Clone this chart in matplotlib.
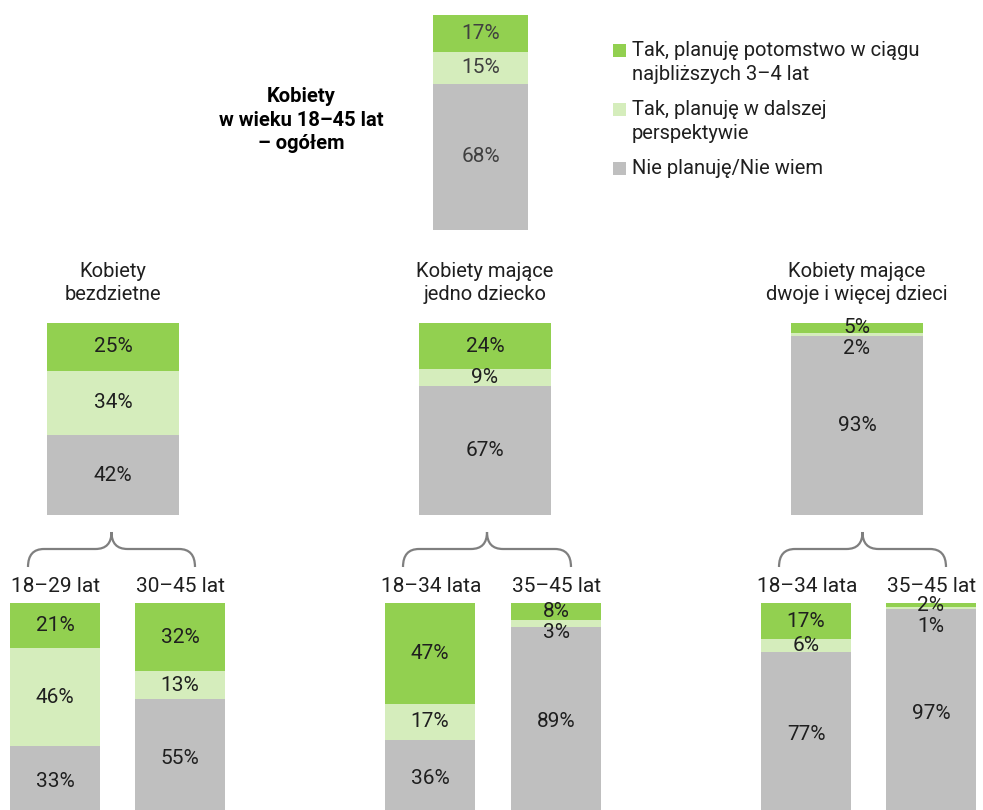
import matplotlib.pyplot as plt
from matplotlib.path import Path
from matplotlib.patches import PathPatch, Rectangle

plt.rcParams['font.family'] = ['Roboto', 'DejaVu Sans']

W, H = 983, 810

# kolejność segmentów: zielony (3-4 lata), jasny (dalsza perspektywa), szary (nie planuję)
legend_labels = ['Tak, planuję potomstwo w ciągu\nnajbliższych 3–4 lat',
                 'Tak, planuję w dalszej\nperspektywie',
                 'Nie planuję/Nie wiem']
colors = ['#92D050', '#D5EDBC', '#BFBFBF']

total_title = 'Kobiety\nw wieku 18–45 lat\n– ogółem'
total_vals = [17, 15, 68]

group_titles = ['Kobiety\nbezdzietne', 'Kobiety mające\njedno dziecko',
                'Kobiety mające\ndwoje i więcej dzieci']
group_vals = [[25, 34, 42], [24, 9, 67], [5, 2, 93]]

sub_labels = [['18–29 lat', '30–45 lat'], ['18–34 lata', '35–45 lat'],
              ['18–34 lata', '35–45 lat']]
sub_vals = [[[21, 46, 33], [32, 13, 55]],
            [[47, 17, 36], [8, 3, 89]],
            [[17, 6, 77], [2, 1, 97]]]

fig = plt.figure(figsize=(W / 100, H / 100), dpi=100)


def ax_at(x, y, w, h):
    return fig.add_axes([x / W, 1 - (y + h) / H, w / W, h / H])


def stacked_bar(x, y, w, h, vals, txt_color='#1f1f1f', fs=15):
    ax = ax_at(x, y, w, h)
    total = sum(vals)
    bottom = total
    centers = []
    for v, c in zip(vals, colors):
        bottom -= v
        ax.bar(0, v, bottom=bottom, width=1, color=c, linewidth=0)
        centers.append(bottom + v / 2)
    for i, (v, yc) in enumerate(zip(vals, centers)):
        if i == 1 and v < 5:
            # mały segment - etykieta pod etykietą zielonego
            ax.annotate(f'{v}%', xy=(0, centers[0]), xytext=(0, -21),
                        textcoords='offset pixels', ha='center', va='center',
                        fontsize=fs, color=txt_color)
        else:
            ax.text(0, yc, f'{v}%', ha='center', va='center',
                    fontsize=fs, color=txt_color)
    ax.set_xlim(-0.5, 0.5)
    ax.set_ylim(0, total)
    ax.axis('off')
    return ax


def brace(x0, x1, ytop, ymid, ybot):
    xm = (x0 + x1) / 2
    r = 16
    pts = [(x0, ybot), (x0, ymid), (x0 + r, ymid),
           (xm - r, ymid), (xm, ymid), (xm, ytop),
           (xm, ytop), (xm, ymid), (xm + r, ymid),
           (x1 - r, ymid), (x1, ymid), (x1, ybot)]
    codes = [Path.MOVETO, Path.CURVE3, Path.CURVE3,
             Path.LINETO, Path.CURVE3, Path.CURVE3,
             Path.MOVETO, Path.CURVE3, Path.CURVE3,
             Path.LINETO, Path.CURVE3, Path.CURVE3]
    verts = [(vx / W, 1 - vy / H) for vx, vy in pts]
    p = PathPatch(Path(verts, codes), transform=fig.transFigure,
                  fill=False, edgecolor='#7f7f7f', linewidth=1.6)
    fig.patches.append(p)


# górny słupek - ogółem
stacked_bar(433, 15, 95, 215, total_vals, txt_color='#404040')
fig.text(301 / W, 1 - 120 / H, total_title, ha='center', va='center',
         fontsize=14.5, fontweight='bold', linespacing=1.3)

# legenda
leg_y = [50, 109, 168]
for lab, c, ly in zip(legend_labels, colors, leg_y):
    fig.patches.append(Rectangle((613 / W, 1 - (ly + 6.5) / H), 13 / W, 13 / H,
                                 transform=fig.transFigure, color=c, linewidth=0))
    nl = lab.count('\n')
    fig.text(632 / W, 1 - (ly + nl * 12.5) / H, lab, ha='left', va='center',
             fontsize=14.5, color='#1f1f1f', linespacing=1.3)

# grupy
mid_x = [47, 419, 791]
sub_x = [[10, 135], [385, 511], [761, 886]]
for g in range(3):
    mx = mid_x[g]
    fig.text((mx + 66) / W, 1 - 283 / H, group_titles[g], ha='center', va='center',
             fontsize=14.5, color='#1f1f1f', linespacing=1.3)
    stacked_bar(mx, 323, 132, 192, group_vals[g])
    xs = sub_x[g]
    brace(xs[0] + 18, xs[1] + 60, 532, 549, 567)
    for k in range(2):
        sx = xs[k]
        fig.text((sx + 46) / W, 1 - 586 / H, sub_labels[g][k], ha='center', va='center',
                 fontsize=15, color='#1f1f1f')
        stacked_bar(sx, 603, 90, 214, sub_vals[g][k])

fig.savefig('out.png', dpi=100)
